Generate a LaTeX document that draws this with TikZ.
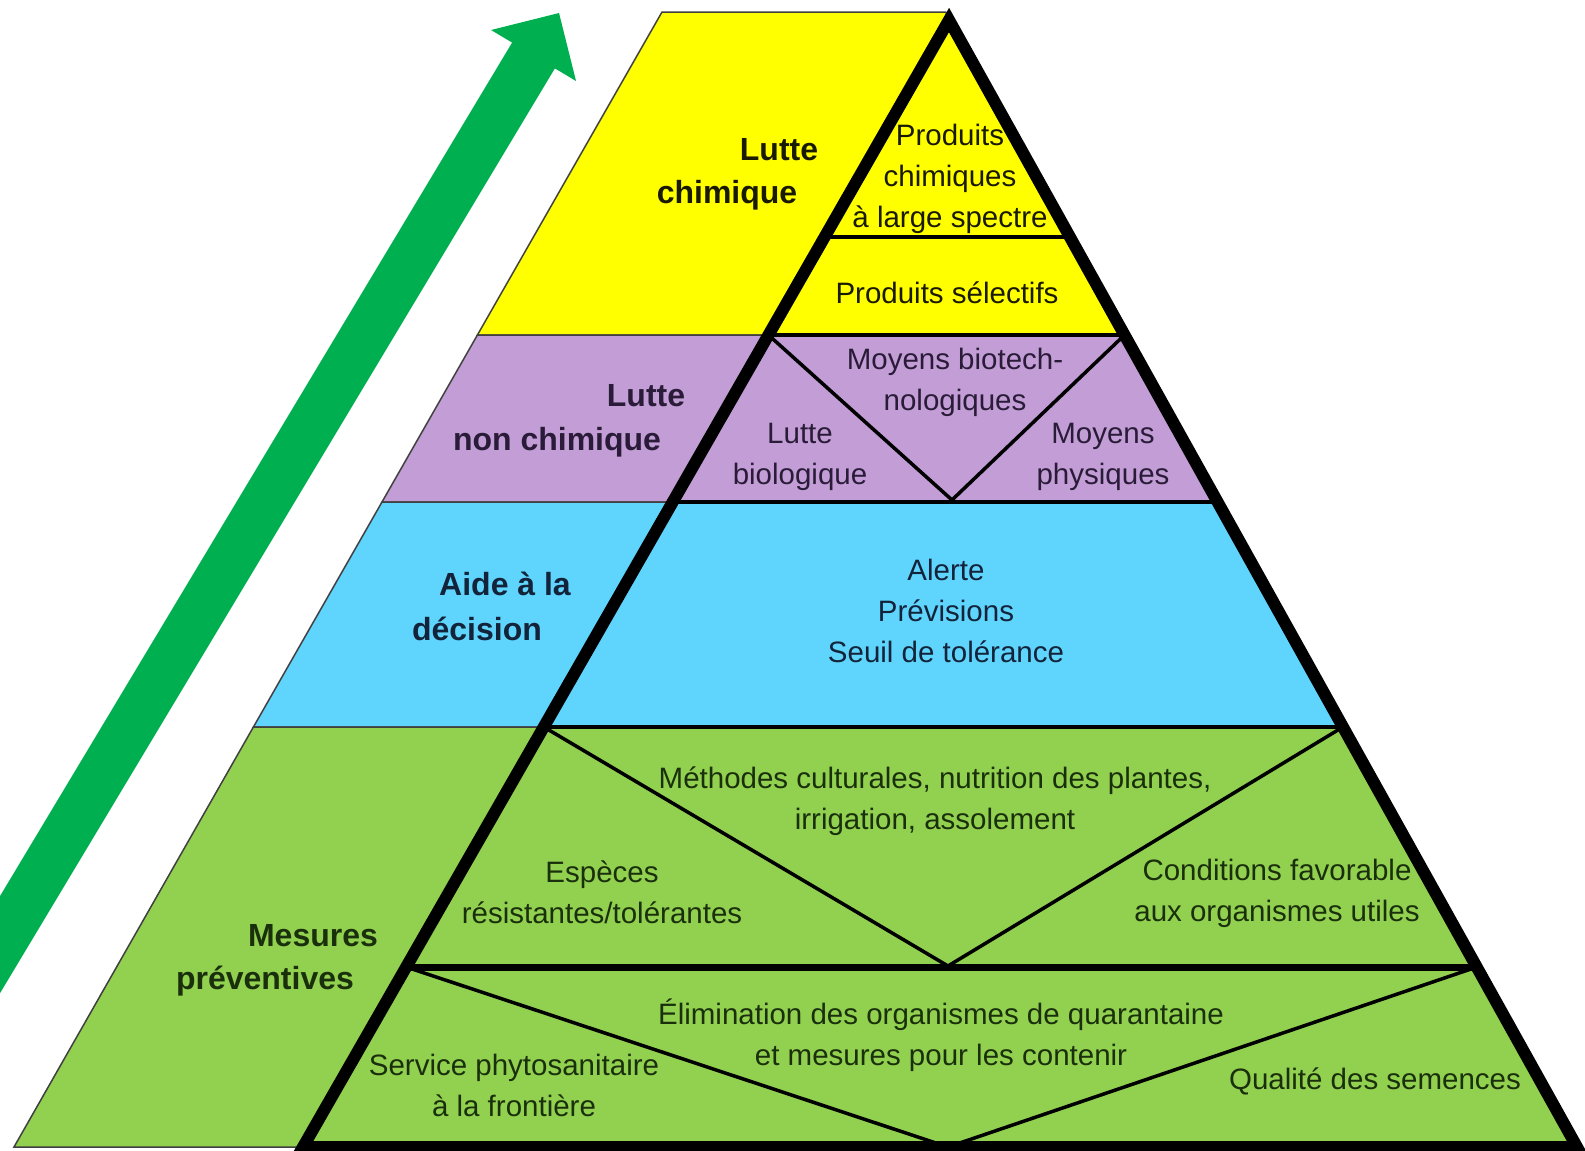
\documentclass[tikz,border=0pt]{standalone}
\usepackage{fontspec}
\setmainfont{Liberation Sans}
\usetikzlibrary{calc}
\definecolor{cyel}{HTML}{FFFF00}
\definecolor{cpur}{HTML}{C29DD6}
\definecolor{cblu}{HTML}{5FD4FD}
\definecolor{cgrn}{HTML}{92D050}
\definecolor{carr}{HTML}{00B050}
\definecolor{tyel}{HTML}{1A1A00}
\definecolor{tpur}{HTML}{2A1C38}
\definecolor{tblu}{HTML}{13233A}
\definecolor{tgrn}{HTML}{1A300C}
\begin{document}
\begin{tikzpicture}[x=1pt,y=-1pt,
  bandbox/.style={draw=black!75, line width=1.5},
  inline/.style={line width=4, black},
  divline/.style={line width=7, black},
  vline/.style={line width=3.5, black},
  lab/.style={font=\fontsize{32}{38}\selectfont\bfseries, inner sep=0, anchor=center},
  txt/.style={font=\fontsize{29.5}{41}\selectfont, inner sep=0, align=center, anchor=center}]
\useasboundingbox (0,0) rectangle (1585,1151);
\begin{scope}
\clip (0,0) rectangle (1585,1151);
% background bands
\fill[white] (0,0) rectangle (1585,1151);
\filldraw[bandbox, fill=cyel] (662,12) -- (945.7,12) -- (1125.6,335) -- (477.4,335) -- cycle;
\filldraw[bandbox, fill=cpur] (477.4,335) -- (1125.6,335) -- (1218.7,502) -- (382,502) -- cycle;
\filldraw[bandbox, fill=cblu] (382,502) -- (1218.7,502) -- (1344,727) -- (253.4,727) -- cycle;
\filldraw[bandbox, fill=cgrn] (253.4,727) -- (1344,727) -- (1578,1147) -- (14,1147) -- cycle;
% green arrow
\fill[carr] (559,13) -- (576,81) -- (554.9,68.4) -- (-139.9,1226.4) -- (-182.7,1200.6) -- (512.1,42.6) -- (491,30) -- cycle;
% pyramid geometry
\coordinate (A) at (949,20);
\coordinate (BL) at (303,1147);
\coordinate (BR) at (1577,1147);
\coordinate (L0) at ($(A)!0.1926!(BL)$);
\coordinate (R0) at ($(A)!0.1926!(BR)$);
\coordinate (L1) at ($(A)!0.2795!(BL)$);
\coordinate (R1) at ($(A)!0.2795!(BR)$);
\coordinate (L2) at ($(A)!0.4277!(BL)$);
\coordinate (R2) at ($(A)!0.4277!(BR)$);
\coordinate (L3) at ($(A)!0.6273!(BL)$);
\coordinate (R3) at ($(A)!0.6273!(BR)$);
\coordinate (L4) at ($(A)!0.8403!(BL)$);
\coordinate (R4) at ($(A)!0.8403!(BR)$);
\coordinate (Vp) at (952,500);
\coordinate (Vg1) at (948,966);
\coordinate (Vg2) at (948,1147);
% inner lines
\draw[line width=3.5] (L0) -- (R0);
\draw[inline] (L1) -- (R1);
\draw[inline] (L2) -- (R2);
\draw[inline] (L3) -- (R3);
\draw[divline] (L4) -- (R4);
\draw[vline] (L1) -- (Vp) -- (R1);
\draw[vline] (L3) -- (Vg1) -- (R3);
\draw[vline] (L4) -- (Vg2) -- (R4);
% pyramid outline
\draw[line width=12, line join=miter] (A) -- (BL) -- (BR) -- cycle;
\end{scope}
% left labels
\node[lab, text=tyel] (lc1) at (779,150) {Lutte};
\node[lab, text=tyel] (lc2) at (727,195) {chimique};
\node[lab, text=tpur] (ln1) at (646,396) {Lutte};
\node[lab, text=tpur] (ln2) at (557,442) {non chimique};
\node[lab, text=tblu] (ad1) at (505,584) {Aide à la};
\node[lab, text=tblu] (ad2) at (477,629) {décision};
\node[lab, text=tgrn] (mp1) at (313,936) {Mesures};
\node[lab, text=tgrn] (mp2) at (265,981) {préventives};
% inner texts
\node[txt, text=tyel] (pc) at (950,179) {Produits\\chimiques\\à large spectre};
\node[txt, text=tyel] (ps) at (947,293) {Produits sélectifs};
\node[txt, text=tpur] (mb) at (955,382) {Moyens biotech-\\nologiques};
\node[txt, text=tpur] (lb) at (800,457) {Lutte\\biologique};
\node[txt, text=tpur] (mph) at (1103,457) {Moyens\\physiques};
\node[txt, text=tblu] (al) at (946,611) {Alerte\\Prévisions\\Seuil de tolérance};
\node[txt, text=tgrn] (mc) at (935,801) {Méthodes culturales, nutrition des plantes,\\irrigation, assolement};
\node[txt, text=tgrn] (es) at (602,892) {Espèces\\résistantes/tolérantes};
\node[txt, text=tgrn] (cf) at (1277,893) {Conditions favorable\\aux organismes utiles};
\node[txt, text=tgrn] (el) at (941,1035) {Élimination des organismes de quarantaine\\et mesures pour les contenir};
\node[txt, text=tgrn] (sp) at (514,1085) {Service phytosanitaire\\à la frontière};
\node[txt, text=tgrn] (qs) at (1375,1081) {Qualité des semences};
\end{tikzpicture}
\end{document}
